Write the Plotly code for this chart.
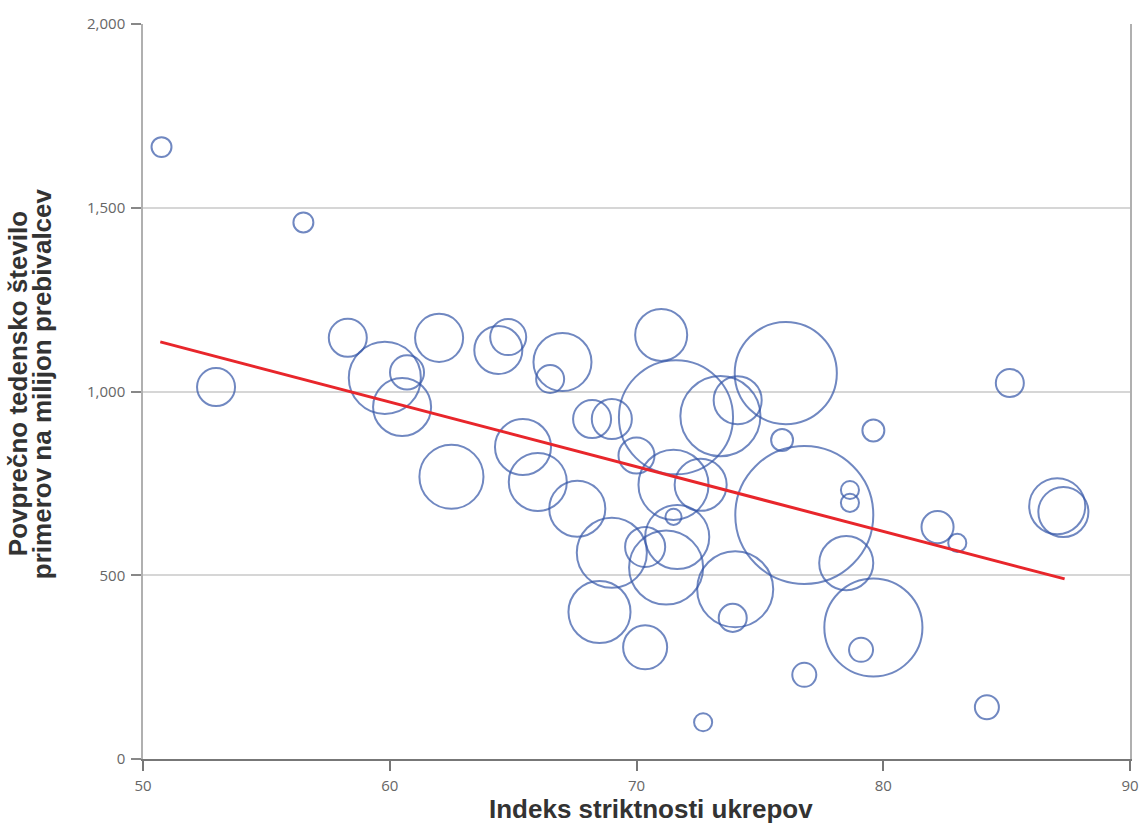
import plotly.graph_objects as go

# Stringency index (x), average weekly cases per million (y), population-like bubble size
stringency = [50.75, 56.5, 52.96, 58.3, 59.8, 60.7, 60.5, 62.0, 62.5, 64.4,
              64.8, 67.0, 66.5, 65.4, 66.0, 68.2, 69.0, 67.6, 70.0, 71.0,
              71.6, 73.4, 74.1, 76.05, 75.9, 79.6, 71.5, 72.6, 71.5, 71.65,
              71.2, 70.35, 69.0, 68.5, 70.35, 74.0, 73.9, 76.8, 78.65, 78.65,
              78.5, 79.6, 79.1, 76.8, 82.2, 83.0, 84.2, 85.13, 87.05, 87.3,
              72.7]
cases = [1665, 1460, 1012, 1146, 1037, 1052, 958, 1146, 768, 1113,
         1148, 1080, 1034, 849, 754, 925, 925, 681, 826, 1154,
         930, 933, 976, 1050, 868, 894, 746, 746, 659, 604,
         521, 577, 561, 400, 304, 462, 384, 664, 732, 697,
         533, 358, 297, 229, 631, 588, 141, 1023, 688, 672,
         100]
population = [6.7, 6.7, 24.3, 24.3, 87.3, 19.5, 56.6, 38.8, 69.0, 38.8,
              21.8, 56.6, 13.2, 52.8, 56.6, 24.3, 27.0, 52.8, 21.8, 45.5,
              218.9, 107.8, 38.8, 175.2, 8.1, 8.1, 82.5, 45.5, 4.4, 69.0,
              92.2, 27.0, 82.5, 64.7, 32.6, 97.2, 13.2, 320.0, 5.5, 5.5,
              49.1, 161.7, 9.7, 9.7, 17.3, 5.5, 9.7, 13.2, 52.8, 42.1,
              5.5]

trend_x = [50.7, 87.35]
trend_y = [1135, 490]

x_ticks = [50, 60, 70, 80, 90]
y_ticks = [0, 500, 1000, 1500, 2000]
y_tick_labels = ["0", "500", "1,000", "1,500", "2,000"]

x_title = "Indeks striktnosti ukrepov"
y_title_1 = "Povprečno tedensko število"
y_title_2 = "primerov na milijon prebivalcev"

# plotly area mode: radius = sqrt(size / (2 * sizeref)); largest bubble radius ~69 px
max_radius = 69
sizeref = max(population) / (2 * max_radius ** 2)

fig = go.Figure()
fig.add_trace(go.Scatter(
    x=stringency, y=cases, mode="markers",
    marker=dict(size=population, sizemode="area", sizeref=sizeref,
                color="rgba(0,0,0,0)",
                line=dict(color="#3556A8", width=2)),
    hoverinfo="x+y", showlegend=False,
))
fig.add_trace(go.Scatter(
    x=trend_x, y=trend_y, mode="lines",
    line=dict(color="#E8262B", width=3), showlegend=False,
))

tick_font = dict(family="Open Sans, sans-serif", size=15, color="#666666")
title_font = dict(family="Liberation Sans, Arial, sans-serif", size=26,
                  color="#333333", weight="bold")

fig.update_layout(
    width=1141, height=823,
    margin=dict(l=143, r=11, t=24, b=64, autoexpand=False),
    paper_bgcolor="white", plot_bgcolor="white",
    xaxis=dict(range=[50, 90], tickvals=x_ticks, showgrid=False,
               showline=True, linecolor="#777777", linewidth=1.5,
               ticks="outside", ticklen=10, tickwidth=1.5, tickcolor="#777777",
               tickfont=tick_font, zeroline=False, fixedrange=True,
               ticklabelstandoff=2, automargin=False),
    yaxis=dict(range=[0, 2000], tickvals=y_ticks, ticktext=y_tick_labels,
               showgrid=True, gridcolor="#D6D6D6", gridwidth=1.5,
               showline=True, linecolor="#B0B0B0", linewidth=1.5, mirror=True,
               ticks="outside", ticklen=10, tickwidth=1.5, tickcolor="#888888",
               tickfont=tick_font, zeroline=False, fixedrange=True,
               ticklabelstandoff=3, automargin=False),
    annotations=[
        dict(text=x_title, xref="paper", yref="paper", x=0.515, y=0,
             yshift=-33, xanchor="center", yanchor="top", showarrow=False,
             font=title_font),
        dict(text=y_title_1, xref="paper", yref="paper", x=0, y=0.51,
             xshift=-125, xanchor="center", yanchor="middle", textangle=-90,
             showarrow=False, font=title_font),
        dict(text=y_title_2, xref="paper", yref="paper", x=0, y=0.51,
             xshift=-101, xanchor="center", yanchor="middle", textangle=-90,
             showarrow=False, font=title_font),
    ],
)

fig.write_html("out.html",
               config={"displayModeBar": False},
               post_script="document.body.style.margin='0';"
                           "document.body.style.overflow='hidden';")
